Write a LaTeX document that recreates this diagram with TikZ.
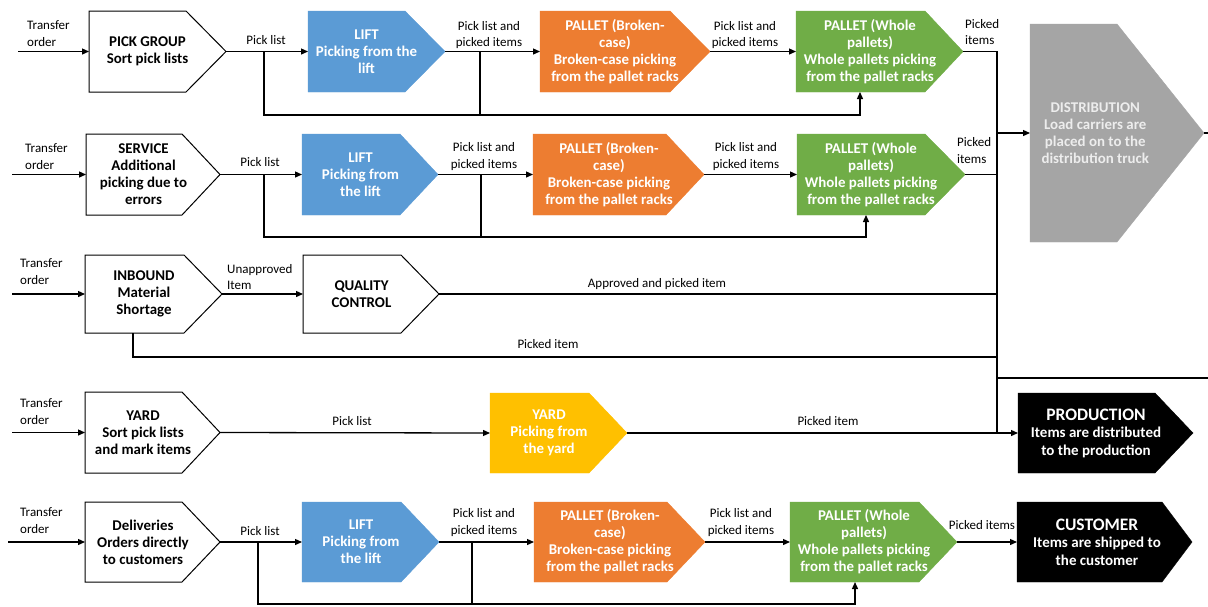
\documentclass[tikz,border=0pt]{standalone}
\usepackage{fontspec}
\setmainfont{Carlito}
\usetikzlibrary{arrows.meta}

\definecolor{liftblue}{HTML}{5B9BD5}
\definecolor{caseorange}{HTML}{ED7D31}
\definecolor{palletgreen}{HTML}{70AD47}
\definecolor{yardyellow}{HTML}{FFC000}
\definecolor{distgray}{HTML}{A5A5A5}

\tikzset{
  stageframe/.style={rectangle, inner sep=0pt, outer sep=0pt, draw=none},
  stagetext/.style={align=center, inner sep=0pt, font=\bfseries\fontsize{14.9}{17}\selectfont},
  plainstage/.style={draw=black, line width=1pt, fill=white},
  liftstage/.style={fill=liftblue, draw=liftblue},
  casestage/.style={fill=caseorange, draw=caseorange},
  palletstage/.style={fill=palletgreen, draw=palletgreen},
  yardstage/.style={fill=yardyellow, draw=yardyellow},
  diststage/.style={fill=distgray, draw=distgray},
  sinkstage/.style={fill=black, draw=black},
  flow/.style={line width=1.3pt, -{Triangle[length=7pt,width=6pt]}},
  wire/.style={line width=1.3pt},
  lbl/.style={inner sep=0pt, font=\fontsize{13}{16.5}\selectfont, align=center},
  lbll/.style={lbl, align=left, anchor=west},
}

% #1 name, #2 left, #3 top, #4 tip, #5 bottom, #6 point length,
% #7 outline/fill style, #8 text options, #9 text
\newcommand\stagebox[9]{%
  \pgfmathsetmacro\sbw{#4-#2}%
  \pgfmathsetmacro\sbh{#5-#3}%
  \pgfmathsetmacro\sbcx{(#2+#4)/2}%
  \pgfmathsetmacro\sbcy{(#3+#5)/2}%
  \node[stageframe, minimum width=\sbw pt, minimum height=\sbh pt] (#1) at (\sbcx,\sbcy) {};
  \path[#7] (#1.north west) -- ([xshift=-#6pt]#1.north east) -- (#1.east)
    -- ([xshift=-#6pt]#1.south east) -- (#1.south west) -- cycle;
  \node[stagetext, #8] (#1-text) at ([xshift=-#6pt/4]#1.center) {#9};
}

\begin{document}
\begin{tikzpicture}[x=1pt, y=-1pt]
\useasboundingbox[fill=white] (0,0) rectangle (1208,606);

% ---------- stages ----------
\stagebox{pg}{89}{11}{226}{92}{40}{plainstage}{}{PICK GROUP\\Sort pick lists}
\stagebox{lift1}{308}{11}{445}{92}{40}{liftstage}{text=white}{LIFT\\Picking from the\\lift}
\stagebox{brk1}{540}{11}{710}{92}{40}{casestage}{text=white}{PALLET (Broken-\\case)\\Broken-case picking\\from the pallet racks}
\stagebox{whole1}{796}{11}{963}{92}{38}{palletstage}{text=white}{PALLET (Whole\\pallets)\\Whole pallets picking\\from the pallet racks}

\stagebox{svc}{86}{134}{220}{215}{38}{plainstage}{}{SERVICE\\Additional\\picking due to\\errors}
\stagebox{lift2}{302}{134}{438}{215}{38}{liftstage}{text=white}{LIFT\\Picking from\\the lift}
\stagebox{brk2}{533}{134}{704}{215}{38}{casestage}{text=white}{PALLET (Broken-\\case)\\Broken-case picking\\from the pallet racks}
\stagebox{whole2}{797}{134}{965}{215}{40}{palletstage}{text=white}{PALLET (Whole\\pallets)\\Whole pallets picking\\from the pallet racks}

\stagebox{inb}{85}{255}{222}{333}{38}{plainstage}{}{INBOUND\\Material\\Shortage}
\stagebox{qc}{303}{255}{439}{333}{38}{plainstage}{}{QUALITY\\CONTROL}

\stagebox{yard1}{85}{392}{220}{473}{38}{plainstage}{}{YARD\\Sort pick lists\\and mark items}
\stagebox{yard2}{490}{393}{627}{473}{38}{yardstage}{text=white}{YARD\\Picking from\\the yard}

\stagebox{dlv}{85}{502}{220}{582}{38}{plainstage}{}{Deliveries\\Orders directly\\to customers}
\stagebox{lift5}{302}{502}{439}{582}{38}{liftstage}{text=white}{LIFT\\Picking from\\the lift}
\stagebox{brk5}{534}{502}{705}{582}{38}{casestage}{text=white}{PALLET (Broken-\\case)\\Broken-case picking\\from the pallet racks}
\stagebox{whole5}{790}{502}{957}{582}{38}{palletstage}{text=white}{PALLET (Whole\\pallets)\\Whole pallets picking\\from the pallet racks}

\stagebox{dist}{1030}{24}{1204}{242}{87}{diststage}{text=white!93!black}{DISTRIBUTION\\Load carriers are\\placed on to the\\distribution truck}
\stagebox{prod}{1018}{393}{1193}{473}{38}{sinkstage}{text=white, font=\bfseries\fontsize{15}{17.5}\selectfont}{{\fontsize{17.5}{20}\selectfont PRODUCTION}\\Items are distributed\\to the production}
\stagebox{cust}{1017}{502}{1192}{582}{30}{sinkstage}{text=white, font=\bfseries\fontsize{15}{17.5}\selectfont}{{\fontsize{17.5}{20}\selectfont CUSTOMER}\\Items are shipped to\\the customer}

% ---------- incoming transfer orders ----------
\coordinate (in1) at (18,51.5);
\coordinate (in2) at (12,174.5);
\coordinate (in3) at (12,294);
\coordinate (in4) at (12,432.5);
\coordinate (in5) at (8,542);
\draw[flow] (in1) -- (pg.west);
\draw[flow] (in2) -- (svc.west);
\draw[flow] (in3) -- (inb.west);
\draw[flow] (in4) -- (yard1.west);
\draw[flow] (in5) -- (dlv.west);
\node[lbll] (to1) at (27,33.5) {Transfer\\order};
\node[lbll] (to2) at (25,156.5) {Transfer\\order};
\node[lbll] (to3) at (20,271.5) {Transfer\\order};
\node[lbll] (to4) at (20,411.5) {Transfer\\order};
\node[lbll] (to5) at (20,520.5) {Transfer\\order};

% ---------- row 1: pick group ----------
\draw[flow] (pg.east) -- (lift1.west);
\draw[flow] (lift1.east) -- (brk1.west);
\draw[flow] (brk1.east) -- (whole1.west);
\coordinate (j1a) at (264,51.5);
\coordinate (j1b) at (480,51.5);
\coordinate (j1c) at (264,115);
\coordinate (j1d) at (480,115);
\draw[flow] (j1a) -- (j1c) -| ([xshift=-19.5pt]whole1.south);
\draw[wire] (j1b) -- (j1d);
\node[lbl] (l1a) at (266,40) {Pick list};
\node[lbl] (l1b) at (489,35) {Pick list and\\picked items};
\node[lbl] (l1c) at (745,35) {Pick list and\\picked items};
\node[lbll] (l1d) at (965,32) {Picked\\items};

% ---------- row 2: service ----------
\draw[flow] (svc.east) -- (lift2.west);
\draw[flow] (lift2.east) -- (brk2.west);
\draw[flow] (brk2.east) -- (whole2.west);
\coordinate (j2a) at (264,174.5);
\coordinate (j2b) at (481,174.5);
\coordinate (j2c) at (264,237);
\coordinate (j2d) at (481,237);
\draw[flow] (j2a) -- (j2c) -| ([xshift=-15pt]whole2.south);
\draw[wire] (j2b) -- (j2d);
\node[lbl] (l2a) at (260,162) {Pick list};
\node[lbl] (l2b) at (484,156.5) {Pick list and\\picked items};
\node[lbl] (l2c) at (746,156.5) {Pick list and\\picked items};
\node[lbll] (l2d) at (957,150.5) {Picked\\items};

% ---------- collecting line to distribution ----------
\coordinate (t1) at (997,51.5);
\coordinate (tb) at (997,433);
\draw[wire] (whole1.east) -- (t1) -- (tb);
\draw[wire] (whole2.east) -- (whole2.east -| t1);
\draw[flow] (dist.west -| t1) -- (dist.west);
\coordinate (xout) at (1208,133);
\draw[wire] (dist.east) -- (xout);
\coordinate (xin) at (1208,378);
\coordinate (xj) at (997,378);
\draw[wire] (xin) -- (xj);

% ---------- row 3: inbound ----------
\draw[flow] (inb.east) -- (qc.west);
\draw[wire] (qc.east) -- (qc.east -| t1);
\coordinate (k3) at (997,357);
\draw[wire] ([xshift=-20.5pt]inb.south) |- (k3);
\node[lbll] (l3a) at (227,277) {Unapproved\\Item};
\node[lbl] (l3b) at (657,284) {Approved and picked item};
\node[lbl] (l3c) at (548,344) {Picked item};

% ---------- row 4: yard ----------
\draw[flow] (yard1.east) -- (yard2.west);
\draw[flow] (yard2.east) -- (prod.west);
\node[lbl] (l4a) at (352,421) {Pick list};
\node[lbl] (l4b) at (828,421) {Picked item};

% ---------- row 5: deliveries ----------
\draw[flow] (dlv.east) -- (lift5.west);
\draw[flow] (lift5.east) -- (brk5.west);
\draw[flow] (brk5.east) -- (whole5.west);
\draw[flow] (whole5.east) -- (cust.west);
\coordinate (j5a) at (258,542);
\coordinate (j5b) at (472,542);
\coordinate (j5c) at (258,604);
\coordinate (j5d) at (472,604);
\draw[flow] (j5a) -- (j5c) -| ([xshift=-18.5pt]whole5.south);
\draw[wire] (j5b) -- (j5d);
\node[lbl] (l5a) at (260,531) {Pick list};
\node[lbl] (l5b) at (484,522.5) {Pick list and\\picked items};
\node[lbl] (l5c) at (741,522.5) {Pick list and\\picked items};
\node[lbl] (l5d) at (982,525) {Picked items};
\end{tikzpicture}
\end{document}
